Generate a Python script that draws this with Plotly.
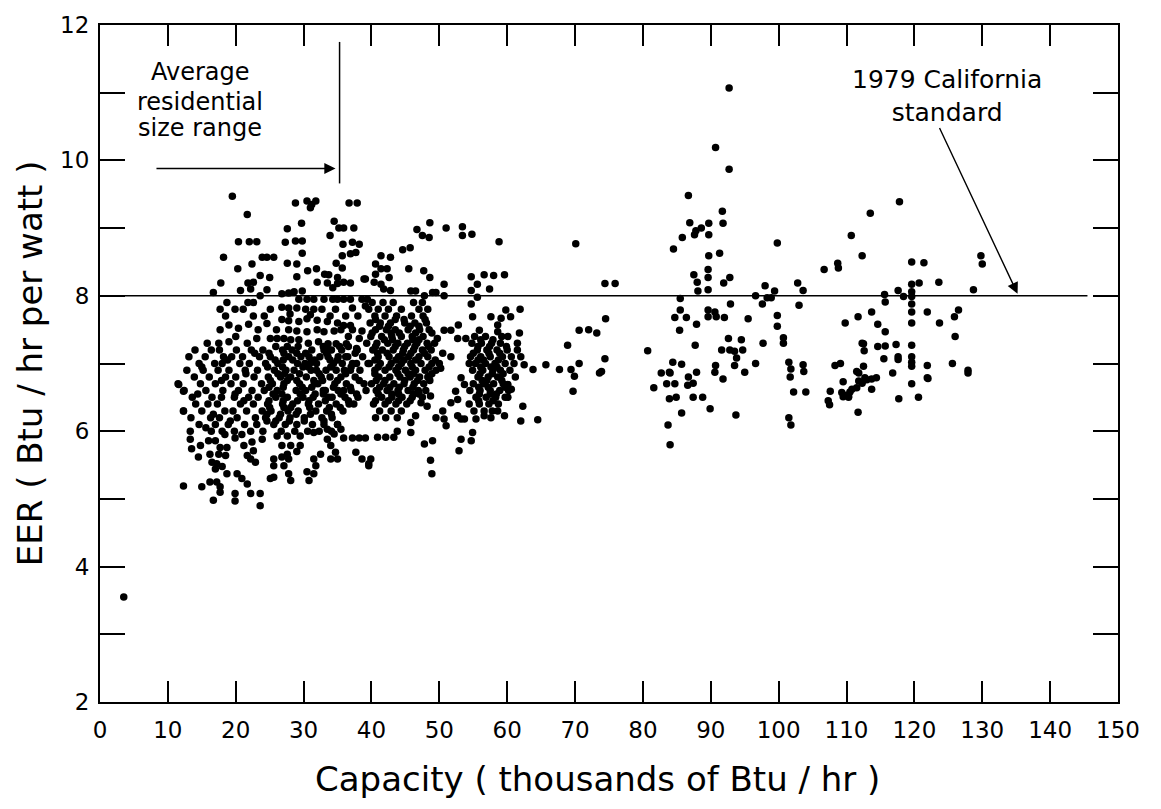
import plotly.graph_objects as go

# ---------------- data ----------------
# Capacity (thousands of Btu/hr), EER (Btu/hr per watt)

outlier = [(3.5, 3.55)]

# cluster 1 (capacity ~11-40): scattered points around the dense band
left_sparse = [
    (19.5, 9.47), (21.7, 9.2), (28.8, 9.37), (30.5, 9.4), (31.2, 9.35), (31.8, 9.4), (31.0, 9.3),
    (36.7, 9.37), (37.9, 9.37),
    (20.4, 8.8), (22.0, 8.8), (23.1, 8.8), (18.2, 8.57), (20.3, 8.4), (22.4, 8.47), (23.9, 8.57),
    (24.6, 8.57), (25.6, 8.57), (27.6, 8.99), (27.3, 8.79), (28.8, 8.81), (29.8, 8.81), (29.7, 9.07),
    (29.8, 8.63), (27.6, 8.48), (29.0, 8.47), (34.5, 9.1), (35.2, 9.0), (35.9, 9.0), (37.4, 9.0),
    (33.9, 8.89), (35.8, 8.76), (37.2, 8.79), (38.2, 8.76), (37.7, 8.64), (36.9, 8.62), (35.7, 8.59),
    (34.8, 8.48), (35.7, 8.41), (30.6, 8.37), (31.9, 8.4), (33.1, 8.32), (33.7, 8.31), (35.0, 8.27),
    (35.9, 8.2), (36.9, 8.19), (38.9, 8.25), (23.6, 8.3), (25.0, 8.27), (21.8, 8.19), (22.6, 8.2),
    (22.2, 8.1), (20.7, 8.08), (17.8, 8.19), (16.7, 8.05), (24.6, 8.09), (29.0, 8.28), (32.0, 8.2),
    (33.5, 8.19), (34.3, 8.12), (35.0, 8.18),
    (18.7, 7.9), (19.9, 7.8), (21.1, 7.8), (21.8, 7.9), (22.6, 7.9), (23.6, 8.0), (17.7, 7.8),
    (18.5, 7.7), (25.1, 7.8), (26.8, 8.03), (27.8, 8.04), (28.6, 8.06), (29.8, 8.07),
    (29.3, 7.95), (30.5, 7.95), (31.5, 7.95), (33.0, 7.95), (34.3, 7.95), (35.0, 7.95), (35.9, 7.95),
    (36.9, 7.95), (38.6, 7.95), (39.4, 7.95),
    (26.8, 7.83), (27.8, 7.82), (29.0, 7.82), (30.3, 7.8), (31.5, 7.8), (32.7, 7.8), (34.7, 7.8),
    (37.2, 7.82), (39.1, 7.85), (22.6, 7.7), (24.6, 7.59),
    (26.8, 7.65), (27.8, 7.63), (29.3, 7.62), (30.5, 7.66), (32.0, 7.64), (33.5, 7.62), (35.0, 7.6),
    (35.9, 7.56), (36.9, 7.56), (19.0, 7.57), (20.4, 7.52), (21.9, 7.58), (23.3, 7.5), (17.7, 7.5),
    (15.8, 7.3), (17.5, 7.3), (19.0, 7.32), (20.0, 7.4), (21.7, 7.3), (23.1, 7.37),
    (25.1, 7.37), (26.1, 7.37), (27.1, 7.37), (28.1, 7.35), (29.3, 7.35),
    (30.5, 7.47), (32.0, 7.5), (33.0, 7.47), (34.5, 7.48), (35.5, 7.5), (37.2, 7.5), (38.6, 7.48),
    (30.7, 7.3), (32.2, 7.32), (33.6, 7.29), (34.8, 7.29), (36.3, 7.29), (37.8, 7.22), (39.3, 7.3),
    (28.0, 7.73), (31.0, 7.72), (33.9, 7.7), (36.2, 7.7), (38.0, 7.7), (26.0, 7.5), (27.8, 7.5),
    (29.0, 7.48), (38.2, 7.37), (36.6, 7.4), (24.2, 7.7),
    (30.9, 7.0), (33.6, 7.1), (36.9, 6.9), (32.1, 6.7), (33.2, 6.6), (35.9, 6.6), (34.2, 6.5),
    (36.7, 6.4), (31.9, 6.9), (37.8, 7.0), (33.8, 7.2), (36.5, 7.1),
    (15.0, 6.95), (17.9, 6.75), (19.9, 6.55), (16.7, 6.25), (19.2, 6.15), (21.2, 6.45), (14.4, 6.55),
    (18.8, 7.05), (21.5, 6.85), (22.8, 7.15), (15.6, 6.05), (20.9, 5.95), (18.4, 5.95),
    (11.6, 6.69), (12.3, 6.59), (12.3, 6.3), (13.3, 5.88), (13.5, 5.74), (14.5, 5.62),
    (14.8, 5.79), (16.0, 5.86), (17.0, 5.86), (17.7, 5.76), (18.7, 5.76), (16.2, 5.66),
    (17.5, 5.66), (18.5, 5.64), (16.5, 5.54), (17.2, 5.52), (18.0, 5.48), (17.0, 5.44),
    (19.9, 5.9), (21.2, 5.79), (22.4, 5.84), (22.6, 5.71), (21.7, 5.64), (22.9, 5.54), (22.2, 5.59),
    (23.9, 5.88), (18.7, 5.37), (20.2, 5.37), (20.9, 5.3), (21.7, 5.22), (16.2, 5.25), (17.2, 5.25),
    (17.7, 5.18), (15.0, 5.18), (12.3, 5.19), (17.7, 5.1), (16.7, 4.98), (19.9, 5.08), (19.9, 4.97),
    (22.2, 5.08), (23.6, 5.08), (23.6, 4.9), (25.1, 5.3), (25.6, 5.32),
    (25.6, 5.59), (26.8, 5.62), (27.8, 5.59), (27.1, 5.49), (25.6, 5.49), (27.8, 5.37), (28.1, 5.27),
    (26.8, 5.79), (28.1, 5.79), (29.0, 5.7), (29.5, 5.79), (27.6, 5.66), (26.1, 5.93), (27.6, 5.93),
    (29.5, 5.93), (30.5, 5.4), (31.5, 5.37), (30.8, 5.27), (31.5, 5.98), (33.5, 6.03), (34.5, 5.96),
    (33.5, 5.88), (34.0, 5.79), (32.5, 5.66), (34.0, 5.59), (31.5, 5.59), (31.8, 5.49), (35.0, 5.59),
    (34.7, 5.69), (35.9, 5.9), (37.2, 5.9), (38.2, 5.9), (39.1, 5.9), (37.7, 5.69), (38.6, 5.59),
    (39.6, 5.52), (35.5, 6.03), (35.0, 6.1),
]

# cluster 1 dense band, read row by row: EER -> capacities
left_rows = {
    7.2: [14.0, 16.4, 17.6, 20.1, 22.3, 24.0, 26.9, 28.3, 31.2, 33.0, 34.1, 35.6, 37.9],
    7.1: [13.1, 15.5, 18.2, 19.4, 21.0, 23.5, 25.1, 27.8, 29.6, 30.8, 32.4, 35.1, 36.2, 38.7],
    7.0: [14.6, 16.9, 18.0, 20.6, 22.0, 24.4, 26.2, 29.1, 30.2, 31.9, 34.4, 35.7, 37.2, 39.5],
    6.9: [12.8, 15.2, 17.4, 19.0, 21.4, 23.2, 25.7, 27.4, 28.6, 31.1, 33.3, 34.8, 36.0, 38.3],
    6.8: [13.9, 16.1, 18.5, 20.0, 22.7, 24.8, 26.6, 28.1, 30.4, 32.6, 33.9, 35.5, 37.6],
    6.7: [11.5, 14.8, 17.0, 19.3, 21.1, 23.8, 25.4, 27.1, 29.4, 31.6, 34.6, 36.3, 38.9],
    6.6: [12.4, 15.6, 18.1, 20.4, 22.4, 24.2, 26.1, 28.9, 30.3, 32.9, 35.1, 37.0, 39.2],
    6.5: [13.6, 16.5, 17.9, 19.8, 21.9, 23.3, 25.9, 27.6, 29.9, 31.4, 33.7, 36.1, 38.0],
    6.4: [14.1, 15.9, 17.3, 20.7, 22.6, 24.7, 26.9, 28.4, 30.7, 32.2, 34.8, 37.4],
    6.3: [12.3, 15.0, 18.4, 19.6, 21.6, 23.9, 25.2, 27.7, 29.2, 31.8, 33.4, 35.8],
    6.2: [13.4, 16.3, 17.6, 20.2, 22.9, 24.4, 26.4, 28.0, 30.1, 32.7, 34.2],
    6.1: [14.6, 17.0, 18.9, 21.3, 23.1, 25.6, 27.3, 29.0, 31.3, 33.0, 35.0],
    6.0: [13.3, 16.4, 18.0, 19.8, 22.2, 24.0, 26.7, 28.7, 30.6, 32.3, 34.1],
}
left_core_rows = {
    7.25: [25.9, 27.6, 29.2, 32.9, 35.3, 36.6],
    7.15: [24.9, 27.1, 29.0, 30.3, 33.4, 37.6],
    7.05: [25.8, 27.0, 28.4, 31.6, 33.9, 35.0],
    6.95: [24.7, 26.9, 29.9, 30.7, 34.0, 37.0],
    6.85: [26.2, 27.2, 29.4, 32.3, 36.2],
    6.75: [25.1, 27.6, 29.0, 31.5, 32.8, 35.0, 38.2],
    6.65: [24.9, 27.0, 29.8, 31.2, 34.4, 36.9],
    6.55: [25.5, 26.8, 29.5, 31.7, 32.9, 35.5, 37.8],
    6.45: [24.9, 27.0, 29.1, 30.8, 33.2, 36.6],
    6.35: [25.0, 27.1, 28.1, 30.9, 33.8, 35.4],
    6.25: [24.6, 26.6, 28.9, 31.0, 34.1],
    6.15: [24.6, 25.9, 27.9, 30.1, 33.0],
}

# cluster 2 (capacity ~38-55)
mid_sparse = [
    (48.6, 9.08), (46.7, 8.98), (51.0, 9.0), (53.4, 9.02), (53.4, 8.89), (54.8, 8.91), (47.5, 8.89),
    (48.5, 8.86), (58.8, 8.8), (44.6, 8.68), (45.7, 8.71), (41.4, 8.59), (42.8, 8.57),
    (40.6, 8.47), (41.4, 8.4), (42.3, 8.4), (40.6, 8.32), (42.6, 8.27), (45.5, 8.4), (47.7, 8.37),
    (48.6, 8.27), (39.1, 8.25), (40.4, 8.2), (41.4, 8.17), (41.8, 8.1), (42.8, 8.08),
    (50.7, 8.17), (49.5, 8.05), (50.7, 8.0), (45.8, 8.07), (46.5, 8.07), (47.8, 8.0), (49.0, 8.05),
    (50.5, 7.15), (51.7, 7.1), (50.2, 6.93), (50.0, 7.0), (51.7, 7.49), (49.7, 7.37), (50.7, 7.49),
    (52.8, 7.57), (52.7, 7.37), (53.9, 7.37),
    (48.5, 6.81), (48.7, 6.52), (48.2, 6.37), (47.3, 6.42), (46.5, 6.23), (45.8, 6.13), (45.8, 5.98),
    (43.8, 6.0), (43.3, 5.91), (42.1, 5.91), (40.9, 5.91), (39.9, 5.59), (39.6, 5.49),
    (47.8, 5.81), (49.0, 5.86), (48.7, 5.57), (48.9, 5.37),
    (50.5, 6.3), (50.7, 6.18), (51.0, 6.08), (49.5, 6.2), (51.7, 6.42), (52.7, 6.23), (53.7, 6.18),
    (53.2, 5.88), (54.9, 5.98), (54.7, 5.86), (52.9, 5.71),
    (52.4, 6.59), (52.7, 6.47), (53.2, 6.79), (53.7, 6.69), (54.4, 7.0),
]

mid_rows = {
    7.9: [40.1, 41.7, 43.2, 46.2, 47.5],
    7.8: [39.6, 41.0, 42.5, 44.4, 47.0, 48.3],
    7.7: [40.5, 42.0, 43.7, 45.9, 47.6],
    7.6: [39.8, 41.3, 42.8, 44.9, 46.4, 48.1],
    7.5: [40.6, 42.2, 43.5, 45.4, 47.1, 48.5],
    7.4: [39.9, 41.5, 43.0, 44.4, 46.0, 47.6],
    7.3: [40.8, 42.4, 43.9, 45.3, 46.7, 48.2, 49.3],
    7.2: [40.2, 41.6, 43.2, 44.7, 46.2, 47.5, 48.8],
    7.1: [41.0, 42.6, 44.0, 45.5, 47.0, 48.3],
    7.0: [39.7, 41.3, 42.9, 44.4, 45.8, 47.3, 48.9],
    6.9: [40.5, 42.0, 43.6, 45.0, 46.5, 47.9, 49.5],
    6.8: [41.1, 42.7, 44.2, 45.7, 47.1, 48.3],
    6.7: [40.0, 41.8, 43.3, 44.8, 46.3, 47.7],
    6.6: [40.7, 42.3, 43.9, 45.4, 46.9, 48.0],
    6.5: [41.5, 43.0, 44.5, 46.0, 47.5],
    6.4: [40.3, 42.0, 43.6, 45.2],
    6.3: [41.2, 42.9, 44.4],
    6.2: [40.6, 42.1, 43.8],
}
mid_core_rows = {
    7.65: [40.6, 43.5, 44.8, 47.9],
    7.55: [41.2, 42.5, 45.7, 47.0],
    7.45: [40.1, 42.9, 44.1, 46.5, 48.9],
    7.35: [41.9, 43.1, 46.1, 47.0],
    7.25: [40.6, 43.5, 44.9, 46.4, 48.4],
    7.15: [40.9, 42.3, 44.6, 45.8, 47.8],
    7.05: [40.5, 43.6, 44.8, 46.5, 49.4],
    6.95: [41.0, 42.6, 44.0, 46.0, 48.5],
    6.85: [40.5, 43.9, 45.4, 46.2, 48.9],
    6.75: [40.7, 42.0, 44.9, 46.8, 48.6],
    6.65: [41.2, 42.7, 44.1, 46.1],
    6.55: [41.0, 43.0, 44.0, 46.2, 47.0],
    6.45: [40.6, 42.5, 44.0, 45.7],
}

# cluster 3 (capacity ~54-66)
c3_sparse = [
    (54.7, 8.28), (55.6, 8.17), (56.6, 8.31), (58.0, 8.3), (59.6, 8.31), (57.4, 8.1), (54.7, 8.08),
    (55.6, 7.98), (54.7, 7.88), (54.9, 7.69), (57.6, 7.69), (59.1, 7.67), (59.8, 7.79), (60.5, 7.69),
    (61.9, 7.8), (58.6, 7.57), (58.6, 7.47), (55.9, 7.49), (61.8, 7.45), (60.1, 7.4), (61.5, 7.3),
    (61.5, 7.2), (62.0, 7.1), (61.0, 7.0), (62.5, 6.98), (63.8, 6.91), (65.7, 6.98),
    (62.3, 6.37), (62.0, 6.15), (64.5, 6.17), (59.6, 6.23), (58.6, 6.3), (60.1, 6.5), (60.1, 6.69),
    (60.6, 6.62), (55.4, 6.18), (53.2, 6.18), (54.4, 6.4), (56.6, 6.23), (57.6, 6.2),
]

c3_rows = {
    7.4: [55.2, 56.8, 59.2],
    7.3: [54.8, 56.2, 57.7, 59.0],
    7.2: [55.6, 57.0, 58.5, 60.0],
    7.1: [54.6, 56.1, 57.5, 59.3, 60.6],
    7.0: [55.3, 56.8, 58.2, 59.7],
    6.9: [54.9, 56.4, 57.9, 59.0, 60.4],
    6.8: [55.7, 57.2, 58.6, 61.2],
    6.7: [55.0, 56.5, 58.0, 59.4],
    6.6: [54.5, 56.0, 57.5, 58.9, 60.2],
    6.5: [55.4, 56.9, 58.3, 59.7],
    6.4: [55.9, 57.3, 58.7],
    6.3: [55.1, 56.6, 57.8],
}
c3_core_rows = {
    7.35: [56.1, 57.9],
    7.25: [55.7, 57.4, 59.9],
    7.15: [55.0, 57.3, 58.9],
    7.05: [55.7, 56.5, 58.7],
    6.95: [56.1, 57.6, 58.5],
    6.85: [56.0, 57.8, 59.4],
    6.75: [56.3, 57.0, 59.2],
    6.65: [55.8, 57.2, 59.7],
    6.55: [55.9, 57.5, 58.4],
    6.45: [55.8, 57.9],
}

# cluster 4 (capacity ~67-101)
c4_points = [
    (70.1, 8.77), (74.4, 8.18), (75.9, 8.18), (74.5, 7.66), (73.6, 6.86), (73.9, 6.88), (74.4, 7.07),
    (80.7, 7.19), (68.9, 7.27), (70.6, 7.49), (70.6, 7.0), (67.7, 6.91), (69.4, 6.91), (69.9, 6.81),
    (69.7, 6.59), (72.0, 7.5), (73.2, 7.45),
    (92.7, 11.07), (90.7, 10.19), (92.7, 9.87), (86.7, 9.48), (91.7, 9.25), (91.8, 9.07),
    (86.9, 9.08), (87.8, 8.96), (88.6, 9.0), (89.7, 9.07), (87.6, 8.9), (89.7, 8.9), (85.8, 8.86),
    (84.5, 8.69), (89.7, 8.59), (91.3, 8.63), (99.8, 8.78),
    (89.6, 8.39), (89.6, 8.27), (87.5, 8.31), (88.0, 8.2), (88.1, 8.07), (89.6, 8.09), (91.9, 8.19),
    (92.8, 8.27), (85.5, 7.96), (85.5, 7.79), (84.7, 7.68), (86.4, 7.68), (85.4, 7.49), (87.9, 7.58),
    (89.6, 7.79), (90.6, 7.76), (89.6, 7.69), (90.8, 7.69), (92.0, 7.68), (92.9, 7.88), (95.5, 7.66),
    (96.6, 8.0), (98.0, 8.15), (97.6, 7.88), (98.3, 7.97), (98.9, 7.97), (99.4, 8.07), (99.8, 7.71),
    (99.8, 7.55), (87.7, 7.27), (91.6, 7.2), (92.6, 7.37), (92.8, 7.2), (93.5, 7.18), (94.5, 7.35),
    (94.7, 7.2), (93.8, 7.08), (93.5, 6.97), (97.7, 7.3), (96.6, 7.0), (95.0, 6.87), (100.7, 7.38),
    (100.7, 7.3), (90.7, 6.97), (90.6, 6.87), (91.8, 6.77), (84.4, 7.02), (85.7, 6.99), (83.9, 6.87),
    (82.7, 6.86), (87.9, 6.87), (86.7, 6.8), (87.4, 6.71), (86.6, 6.68), (83.5, 6.7), (84.7, 6.7),
    (81.6, 6.64), (83.9, 6.48), (84.9, 6.5), (87.4, 6.5), (88.8, 6.5), (84.0, 6.86),
    (85.7, 6.27), (89.9, 6.33), (93.7, 6.24), (83.7, 6.09), (84.0, 5.8),
]

# cluster 5 (capacity ~101-131)
c5_points = [
    (102.8, 8.19), (103.6, 8.08), (103.0, 7.86), (101.5, 7.02), (101.8, 6.92), (101.7, 6.8),
    (102.2, 6.58), (103.6, 6.98), (103.7, 6.88), (104.0, 6.58), (101.5, 6.2), (101.8, 6.09),
    (110.7, 8.89), (112.3, 8.59), (106.7, 8.39), (108.7, 8.48), (108.8, 8.41), (109.8, 7.6),
    (111.7, 7.69), (108.3, 6.97), (109.1, 7.0), (109.5, 6.73), (107.6, 6.59), (107.3, 6.45),
    (109.3, 6.57), (110.5, 6.58), (110.3, 6.5), (111.8, 6.86), (111.8, 6.74), (111.5, 6.64),
    (112.3, 7.3), (107.5, 6.39), (109.5, 6.51), (110.0, 6.53), (111.7, 6.28), (112.7, 6.79),
    (113.7, 6.77), (114.4, 6.79), (113.7, 6.62), (112.3, 6.71), (116.8, 6.86), (117.7, 6.48),
    (119.6, 6.7), (120.6, 6.5), (122.0, 6.78), (127.9, 6.86),
    (117.8, 9.39), (113.5, 9.22), (119.6, 8.5), (121.4, 8.49), (129.8, 8.59), (130.0, 8.47),
    (123.6, 8.2), (120.7, 8.19), (119.6, 8.17), (119.6, 8.06), (119.6, 7.99), (118.4, 7.99),
    (117.6, 8.08), (128.7, 8.09), (115.6, 8.02), (115.7, 7.91), (119.6, 7.88), (119.6, 7.76),
    (121.9, 7.76), (126.5, 7.79), (125.9, 7.69), (113.7, 7.76), (114.6, 7.58), (115.7, 7.47),
    (119.6, 7.6), (123.7, 7.6), (126.0, 7.4), (112.5, 7.29), (112.6, 7.19), (114.6, 7.25),
    (115.7, 7.26), (117.3, 7.28), (119.6, 7.27), (115.5, 7.07), (117.6, 7.1), (117.6, 7.06),
    (119.6, 7.1), (119.6, 7.02), (119.6, 6.96), (121.9, 6.97), (125.6, 7.0), (127.9, 6.9),
    (112.5, 6.96), (111.5, 6.88), (113.0, 6.76), (110.8, 6.62), (110.3, 6.52), (121.9, 6.79),
]

x_ticks = list(range(0, 151, 10))
y_ticks = list(range(2, 13))
y_tick_text = [str(v) if v % 2 == 0 else "" for v in y_ticks]

standard_eer = 8.0
standard_line_end = 145.5

# ---------------- assemble ----------------
def rows_to_points(rows):
    pts = []
    for eer, caps in rows.items():
        for c in caps:
            pts.append((c, eer))
    return pts

all_pts = (outlier + left_sparse + rows_to_points(left_rows) + rows_to_points(left_core_rows)
           + mid_sparse + rows_to_points(mid_rows) + rows_to_points(mid_core_rows)
           + c3_sparse + rows_to_points(c3_rows) + rows_to_points(c3_core_rows)
           + c4_points + c5_points)
xs = [p[0] for p in all_pts]
ys = [p[1] for p in all_pts]

FONT = "DejaVu Sans"

fig = go.Figure()
fig.add_trace(go.Scatter(
    x=xs, y=ys, mode="markers",
    marker=dict(color="black", size=7.5, line=dict(width=0)),
    hoverinfo="x+y", showlegend=False,
))

# 1979 California standard line
fig.add_shape(type="line", x0=0, x1=standard_line_end, y0=standard_eer, y1=standard_eer,
              xref="x", yref="y", line=dict(color="black", width=1.5))
# residential size range bracket
fig.add_shape(type="line", x0=35.3, x1=35.3, y0=9.66, y1=11.75,
              xref="x", yref="y", line=dict(color="black", width=1.5))

annotations = [
    dict(x=34.7, y=9.88, ax=8.1, ay=9.88, xref="x", yref="y", axref="x", ayref="y",
         text="", showarrow=True, arrowhead=2, arrowsize=1.6, arrowwidth=1.4, arrowcolor="black"),
    dict(x=135.2, y=8.03, ax=123.6, ay=10.5, xref="x", yref="y", axref="x", ayref="y",
         text="", showarrow=True, arrowhead=2, arrowsize=1.6, arrowwidth=1.4, arrowcolor="black"),
    dict(x=14.8, y=11.3, xref="x", yref="y", text="Average", showarrow=False,
         font=dict(family=FONT, size=24, color="black")),
    dict(x=14.8, y=10.86, xref="x", yref="y", text="residential", showarrow=False,
         font=dict(family=FONT, size=24, color="black")),
    dict(x=14.8, y=10.48, xref="x", yref="y", text="size range", showarrow=False,
         font=dict(family=FONT, size=24, color="black")),
    dict(x=124.8, y=10.95, xref="x", yref="y", text="1979 California<br>standard", showarrow=False,
         align="center", font=dict(family=FONT, size=25, color="black")),
    dict(x=73.3, y=-0.114, xref="x", yref="paper", text="Capacity ( thousands of Btu / hr )",
         showarrow=False, yanchor="middle", font=dict(family=FONT, size=34, color="black")),
    dict(x=-0.069, y=0.5, xref="paper", yref="paper", text="EER ( Btu / hr per watt )",
         showarrow=False, textangle=-90, xanchor="center", yanchor="middle",
         font=dict(family=FONT, size=34, color="black")),
]

fig.update_layout(
    width=1161, height=809,
    margin=dict(l=100, r=43, t=19, b=107),
    paper_bgcolor="white", plot_bgcolor="white",
    font=dict(family=FONT, color="black"),
    annotations=annotations,
    showlegend=False,
)
fig.update_xaxes(
    range=[0, 150], tickvals=x_ticks, ticktext=[str(v) for v in x_ticks],
    ticks="inside", ticklen=21, tickwidth=1.6, tickcolor="black",
    showline=True, linewidth=2, linecolor="black", mirror="ticks",
    showgrid=False, zeroline=False, tickfont=dict(family=FONT, size=23, color="black"),
    ticklabelstandoff=6,
)
fig.update_yaxes(
    range=[2, 12], tickvals=y_ticks, ticktext=y_tick_text,
    ticks="inside", ticklen=25, tickwidth=1.6, tickcolor="black",
    showline=True, linewidth=2, linecolor="black", mirror="ticks",
    showgrid=False, zeroline=False, tickfont=dict(family=FONT, size=23, color="black"),
    ticklabelstandoff=4,
)

fig.write_html("out.html", config={"displayModeBar": False},
               post_script="document.body.style.margin='0px';")
